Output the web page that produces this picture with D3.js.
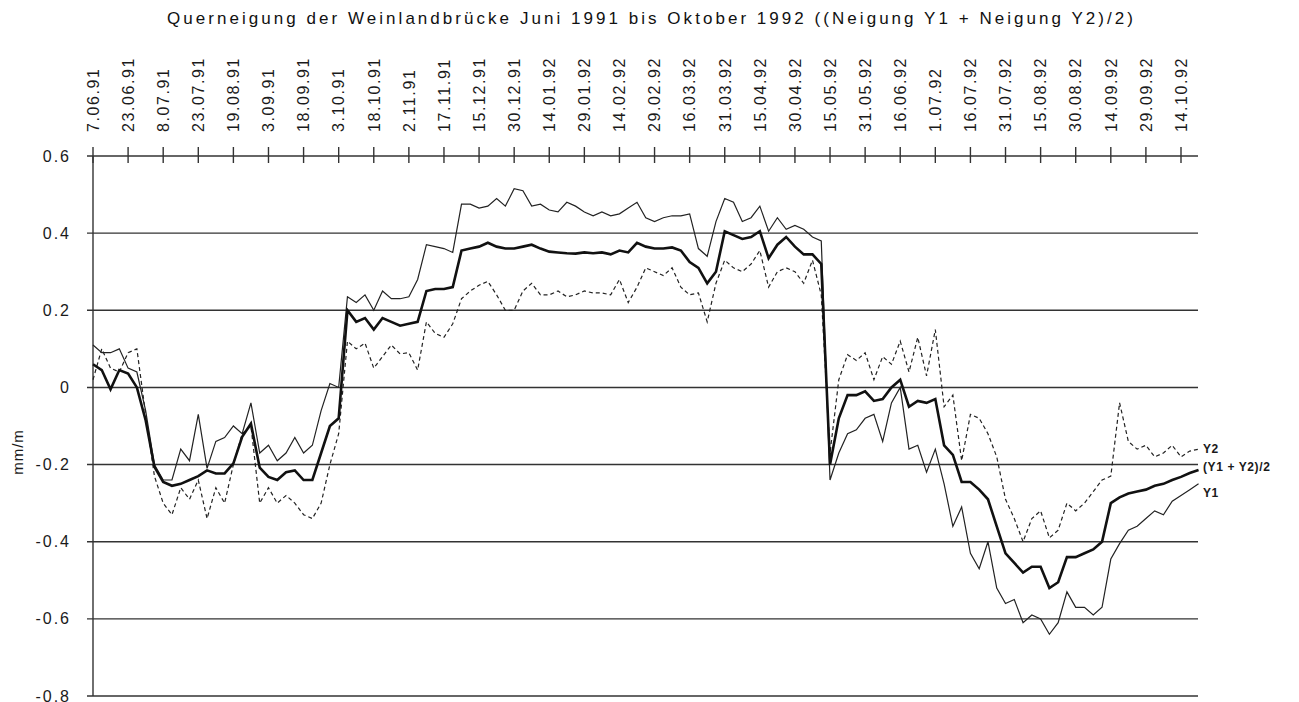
<!DOCTYPE html>
<html>
<head>
<meta charset="utf-8">
<script src="https://cdn.jsdelivr.net/npm/d3@7"></script>
<style>
  body { margin: 0; background: #fff; }
  text { font-family: "Liberation Sans", Arial, sans-serif; fill: #1a1a1a; }
</style>
</head>
<body>
<div id="chart"></div>
<script>
// tick labels along the top (equally spaced in the original)
var dateLabels = ["7.06.91","23.06.91","8.07.91","23.07.91","19.08.91","3.09.91","18.09.91",
  "3.10.91","18.10.91","2.11.91","17.11.91","15.12.91","30.12.91","14.01.92","29.01.92",
  "14.02.92","29.02.92","16.03.92","31.03.92","15.04.92","30.04.92","15.05.92","31.05.92",
  "16.06.92","1.07.92","16.07.92","31.07.92","15.08.92","30.08.92","14.09.92","29.09.92","14.10.92"];

var yTicks = [0.6, 0.4, 0.2, 0, -0.2, -0.4, -0.6, -0.8];

// one value every quarter of a tick interval
var step = 0.25;

var y1 = [0.11,0.09,0.09,0.1,0.05,0.04,-0.06,-0.2,-0.24,-0.24,-0.16,-0.19,-0.07,-0.21,-0.14,-0.13,
  -0.1,-0.12,-0.04,-0.17,-0.15,-0.19,-0.17,-0.13,-0.17,-0.15,-0.06,0.01,0.0,0.235,0.22,0.24,
  0.2,0.25,0.23,0.23,0.235,0.28,0.37,0.365,0.36,0.35,0.475,0.475,0.465,0.47,0.49,0.47,
  0.515,0.51,0.47,0.475,0.46,0.455,0.48,0.47,0.455,0.445,0.455,0.445,0.45,0.465,0.48,0.44,
  0.43,0.44,0.445,0.445,0.45,0.36,0.34,0.43,0.49,0.48,0.43,0.44,0.47,0.405,0.44,0.41,
  0.42,0.41,0.39,0.38,-0.24,-0.17,-0.12,-0.11,-0.08,-0.07,-0.14,-0.04,0.0,-0.16,-0.15,-0.22,
  -0.16,-0.25,-0.36,-0.31,-0.43,-0.47,-0.4,-0.52,-0.56,-0.55,-0.61,-0.59,-0.6,-0.64,-0.61,-0.53,
  -0.57,-0.57,-0.59,-0.57,-0.445,-0.405,-0.37,-0.36,-0.34,-0.32,-0.33,-0.295,-0.28,-0.265,-0.25];

var mean = [0.06,0.045,-0.005,0.045,0.036,0.0,-0.085,-0.206,-0.245,-0.255,-0.25,-0.24,-0.23,-0.215,-0.223,-0.223,
  -0.197,-0.128,-0.094,-0.208,-0.232,-0.24,-0.22,-0.215,-0.24,-0.24,-0.17,-0.1,-0.08,0.2,0.17,0.18,
  0.15,0.18,0.17,0.16,0.165,0.17,0.25,0.255,0.255,0.26,0.355,0.36,0.365,0.375,0.365,0.36,
  0.36,0.365,0.37,0.36,0.352,0.35,0.348,0.347,0.35,0.348,0.35,0.345,0.355,0.35,0.375,0.365,
  0.36,0.36,0.363,0.355,0.325,0.31,0.27,0.3,0.405,0.395,0.385,0.39,0.405,0.335,0.37,0.39,
  0.365,0.345,0.345,0.32,-0.2,-0.08,-0.02,-0.02,-0.01,-0.035,-0.03,0.0,0.02,-0.05,-0.035,-0.04,
  -0.03,-0.15,-0.175,-0.245,-0.245,-0.265,-0.29,-0.36,-0.43,-0.455,-0.48,-0.465,-0.465,-0.52,-0.505,-0.44,
  -0.44,-0.43,-0.42,-0.4,-0.3,-0.285,-0.275,-0.27,-0.265,-0.255,-0.25,-0.24,-0.232,-0.222,-0.214];

var y2 = [0.02,0.1,0.05,0.04,0.09,0.1,-0.07,-0.23,-0.3,-0.33,-0.26,-0.29,-0.24,-0.34,-0.26,-0.3,
  -0.2,-0.12,-0.1,-0.3,-0.26,-0.3,-0.28,-0.3,-0.33,-0.34,-0.3,-0.2,-0.12,0.12,0.1,0.115,
  0.05,0.08,0.11,0.087,0.09,0.045,0.17,0.14,0.13,0.165,0.23,0.25,0.265,0.275,0.24,0.2,
  0.2,0.25,0.27,0.24,0.24,0.25,0.235,0.24,0.25,0.245,0.245,0.24,0.28,0.22,0.26,0.31,
  0.3,0.29,0.31,0.26,0.24,0.245,0.17,0.27,0.33,0.31,0.3,0.32,0.355,0.26,0.3,0.31,
  0.3,0.27,0.33,0.24,-0.17,0.02,0.085,0.07,0.09,0.02,0.08,0.06,0.12,0.04,0.13,0.03,
  0.15,-0.05,-0.02,-0.19,-0.07,-0.08,-0.12,-0.18,-0.29,-0.34,-0.4,-0.34,-0.32,-0.39,-0.37,-0.3,
  -0.32,-0.3,-0.27,-0.24,-0.23,-0.04,-0.14,-0.16,-0.15,-0.18,-0.17,-0.15,-0.18,-0.165,-0.16];

var width = 1299, height = 702;

var svg = d3.select("#chart").append("svg")
    .attr("width", width)
    .attr("height", height);

var x = d3.scaleLinear().domain([0, dateLabels.length - 1]).range([93, 1181]);
var y = d3.scaleLinear().domain([-0.8, 0.6]).range([696, 156]);

// title
svg.append("text")
    .attr("x", 167).attr("y", 24)
    .attr("textLength", 966)
    .attr("lengthAdjust", "spacing")
    .style("font-size", "17px")
    .style("fill", "#111")
    .text("Querneigung der Weinlandbrücke Juni 1991 bis Oktober 1992 ((Neigung Y1 + Neigung Y2)/2)");

// horizontal grid lines
svg.append("g").selectAll("line")
    .data(yTicks)
  .enter().append("line")
    .attr("x1", 87).attr("x2", 1198)
    .attr("y1", function(d) { return y(d); })
    .attr("y2", function(d) { return y(d); })
    .attr("stroke", "#333")
    .attr("stroke-width", 1.4);

// y labels
svg.append("g").selectAll("text")
    .data(yTicks)
  .enter().append("text")
    .attr("x", 71)
    .attr("y", function(d) { return y(d); })
    .attr("dy", "0.35em")
    .attr("text-anchor", "end")
    .style("font-size", "16px")
    .style("letter-spacing", "2px")
    .text(function(d) { return d === 0 ? "0" : d.toFixed(1); });

// left axis
svg.append("line")
    .attr("x1", x(0)).attr("x2", x(0))
    .attr("y1", y(0.6)).attr("y2", y(-0.8))
    .attr("stroke", "#333").attr("stroke-width", 1.4);

// top axis ticks crossing the 0.6 line
svg.append("g").selectAll("line")
    .data(dateLabels)
  .enter().append("line")
    .attr("x1", function(d, i) { return x(i); })
    .attr("x2", function(d, i) { return x(i); })
    .attr("y1", y(0.6) - 9)
    .attr("y2", y(0.6) + 7)
    .attr("stroke", "#333")
    .attr("stroke-width", 1.4);

// rotated date labels
svg.append("g").selectAll("text")
    .data(dateLabels)
  .enter().append("text")
    .attr("transform", function(d, i) { return "translate(" + x(i) + ",132) rotate(-90)"; })
    .attr("dy", "0.36em")
    .attr("text-anchor", "start")
    .style("font-size", "16px")
    .style("letter-spacing", "1.6px")
    .text(function(d) { return d; });

// y axis title
svg.append("text")
    .attr("transform", "translate(18,452) rotate(-90)")
    .attr("text-anchor", "middle")
    .attr("dy", "0.35em")
    .style("font-size", "15px")
    .style("letter-spacing", "1px")
    .text("mm/m");

var line = d3.line()
    .x(function(d, i) { return x(i * step); })
    .y(function(d) { return y(d); });

svg.append("path").datum(y2)
    .attr("d", line)
    .attr("fill", "none")
    .attr("stroke", "#222")
    .attr("stroke-width", 1.2)
    .attr("stroke-dasharray", "4,3");

svg.append("path").datum(y1)
    .attr("d", line)
    .attr("fill", "none")
    .attr("stroke", "#222")
    .attr("stroke-width", 1.2);

svg.append("path").datum(mean)
    .attr("d", line)
    .attr("fill", "none")
    .attr("stroke", "#111")
    .attr("stroke-width", 2.6);

// series labels at the right end
var endLabels = [
  {name: "Y2", v: y2[y2.length - 1], dy: 0},
  {name: "(Y1 + Y2)/2", v: mean[mean.length - 1], dy: -3},
  {name: "Y1", v: y1[y1.length - 1], dy: 9}
];
svg.append("g").selectAll("text")
    .data(endLabels)
  .enter().append("text")
    .attr("x", 1203)
    .attr("y", function(d) { return y(d.v) + d.dy; })
    .attr("dy", "0.35em")
    .style("font-size", "12px")
    .style("font-weight", "bold")
    .style("letter-spacing", "0.6px")
    .text(function(d) { return d.name; });
</script>
</body>
</html>
